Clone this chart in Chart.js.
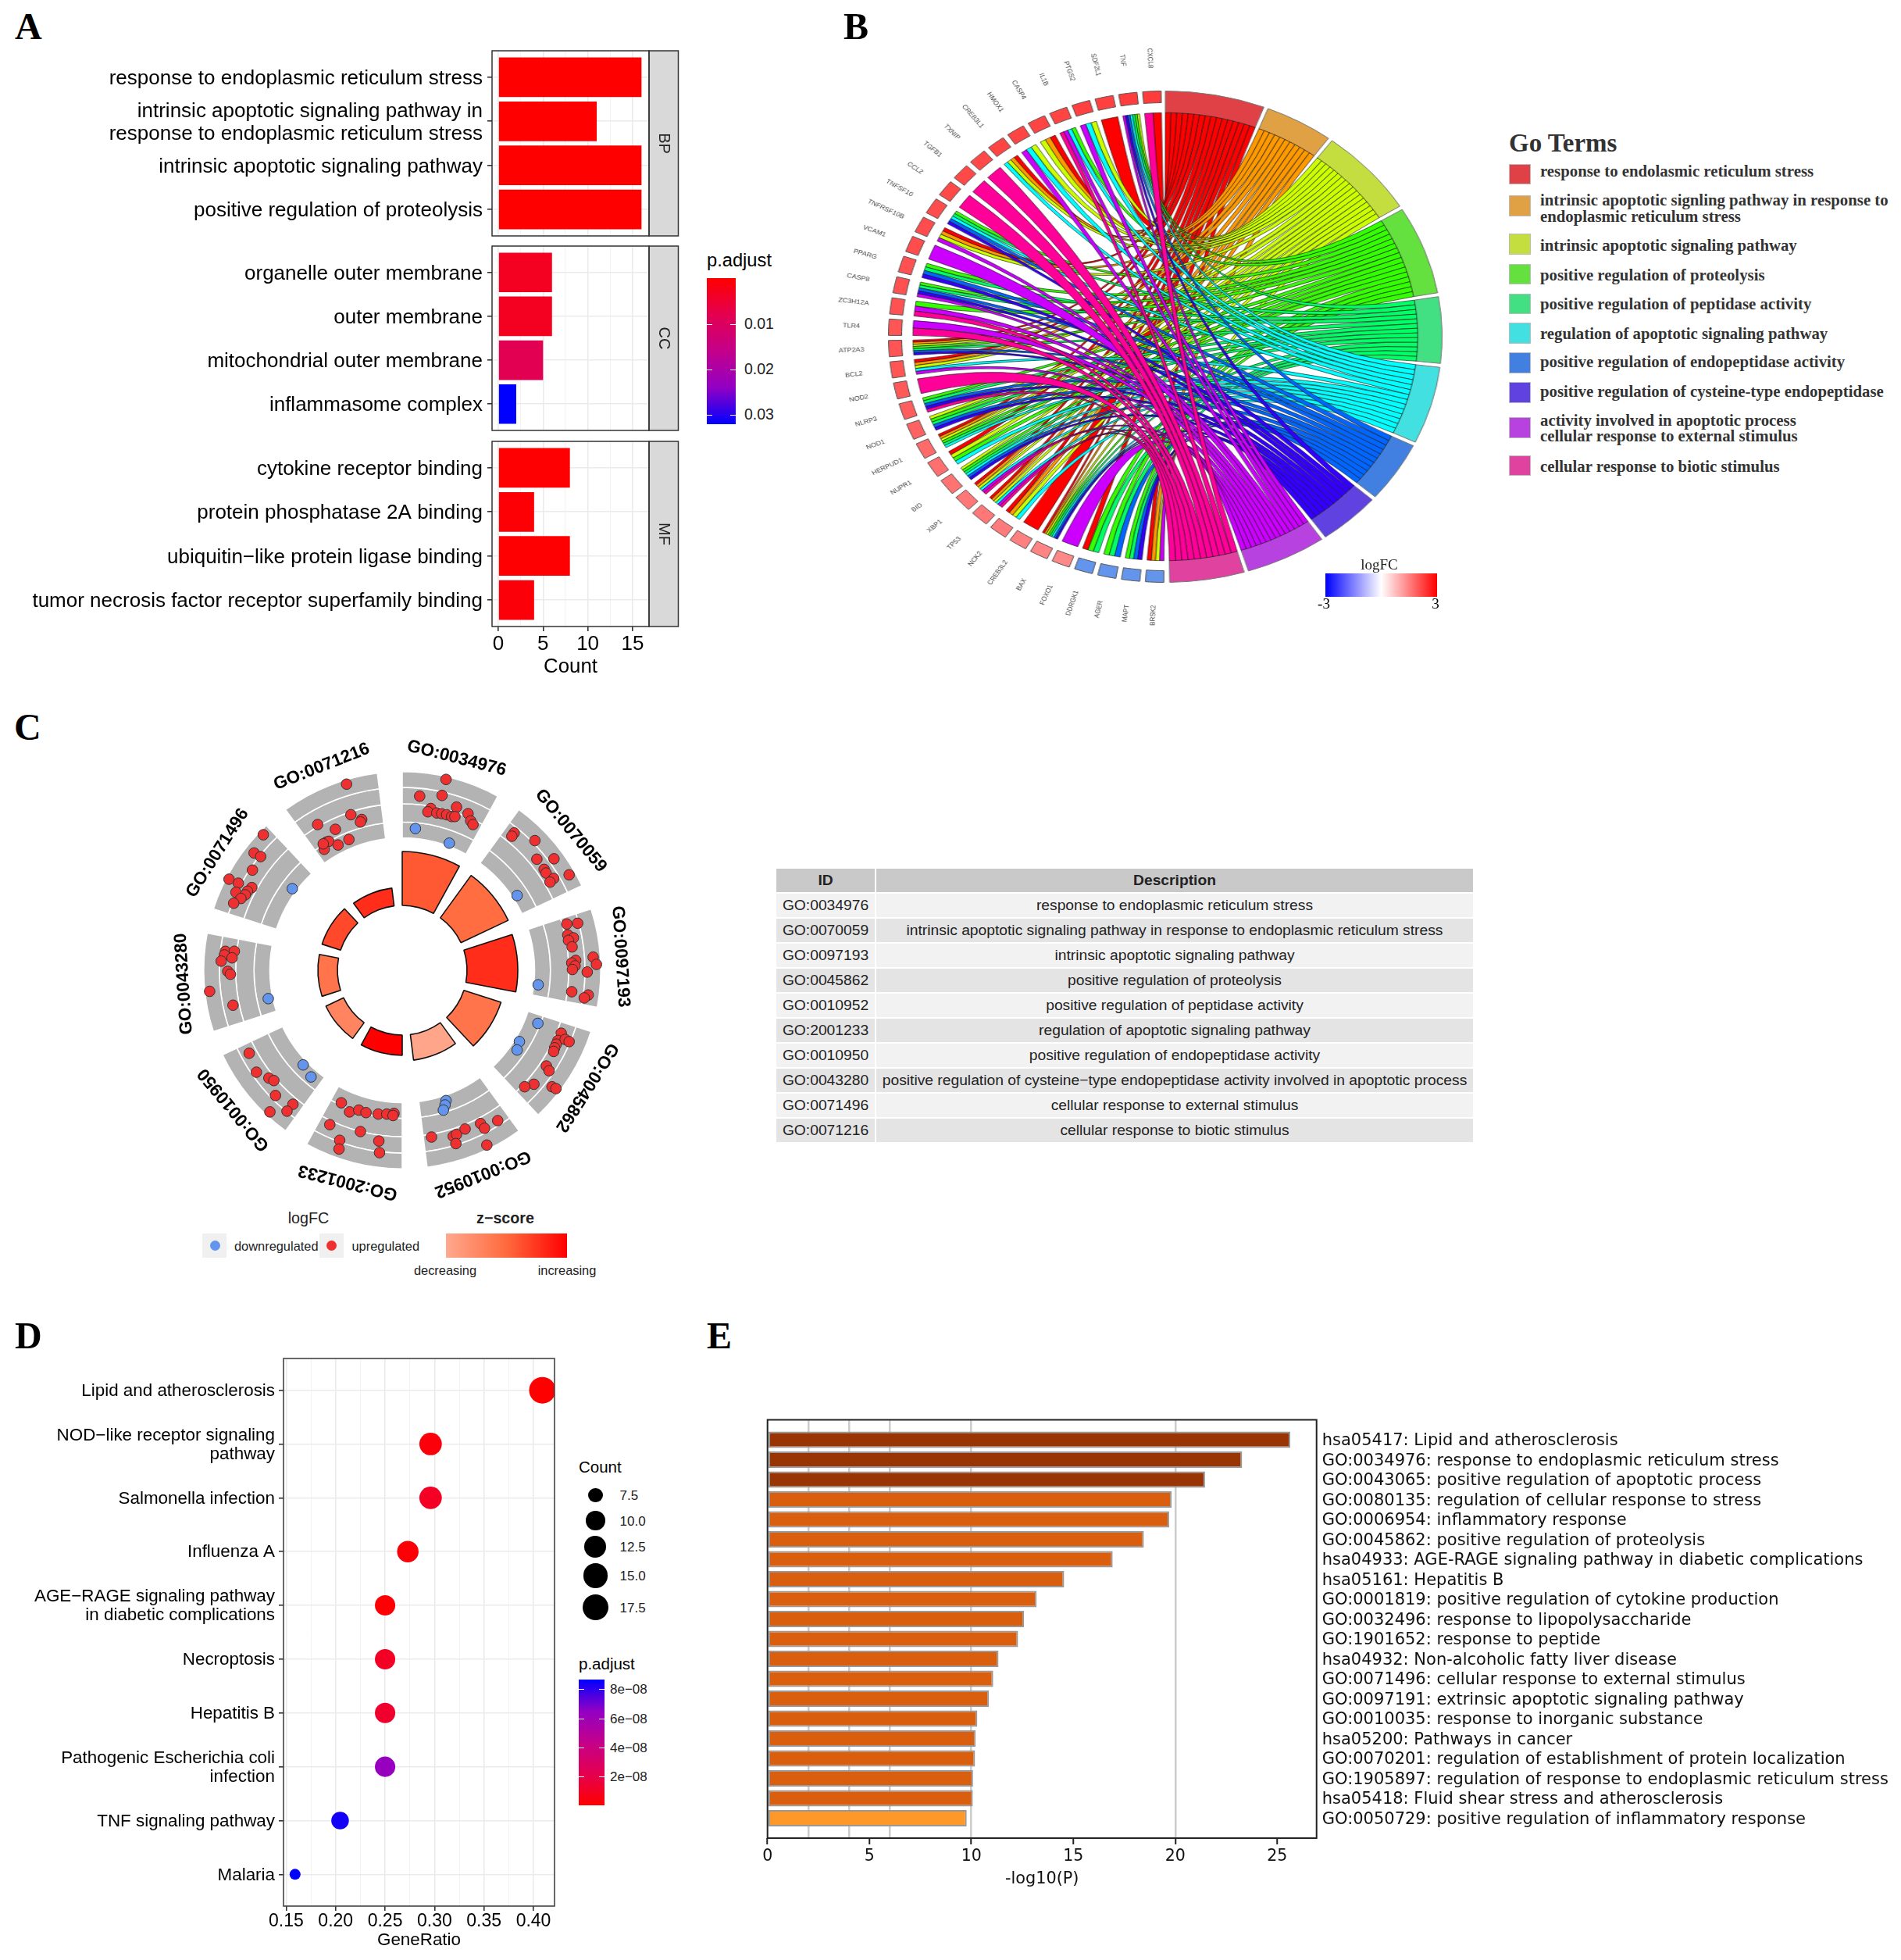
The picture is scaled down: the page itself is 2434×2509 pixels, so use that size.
<!DOCTYPE html>
<html>
<head>
<meta charset="utf-8">
<title>Enrichment panels</title>
<script src="https://cdn.jsdelivr.net/npm/chart.js@4"></script>
<style>
  html, body { margin: 0; padding: 0; background: #fff; }
  body { position: relative; width: 2434px; height: 2509px; overflow: hidden; font-family: "Liberation Sans", sans-serif; }
  canvas { position: absolute; }
  .txt { position: absolute; white-space: pre; line-height: 1; }
  .box { position: absolute; box-sizing: border-box; }
  table { position: absolute; left: 992px; top: 1110px; width: 896px; border-collapse: separate; border-spacing: 2px 2px; table-layout: fixed; font-size: 19.25px; color: #222; text-align: center; }
  th { background: #c9c9c9; height: 30px; padding: 0; }
  td { height: 30px; padding: 0; white-space: nowrap; }
  tr.odd td { background: #f2f2f2; }
  tr.even td { background: #e4e4e4; }
</style>
</head>
<body>
<script>
// panel A
const bpTerms = ["response to endoplasmic reticulum stress", ["intrinsic apoptotic signaling pathway in", "response to endoplasmic reticulum stress"], "intrinsic apoptotic signaling pathway", "positive regulation of proteolysis"];
const bpCounts = [16, 11, 16, 16];
const bpP = [0.0001, 0.0001, 0.0001, 0.0001];
const ccTerms = ["organelle outer membrane", "outer membrane", "mitochondrial outer membrane", "inflammasome complex"];
const ccCounts = [6, 6, 5, 2];
const ccP = [0.0032, 0.0032, 0.0086, 0.032];
const mfTerms = ["cytokine receptor binding", "protein phosphatase 2A binding", "ubiquitin−like protein ligase binding", "tumor necrosis factor receptor superfamily binding"];
const mfCounts = [8, 4, 8, 4];
const mfP = [0.0002, 0.0006, 0.0002, 0.001];
const countTicks = [0, 2.5, 5, 7.5, 10, 12.5, 15];

// panel B
const termNames = ["response to endolasmic reticulum stress", "intrinsic apoptotic signling pathway in response to\nendoplasmic reticulum stress", "intrinsic apoptotic signaling pathway", "positive regulation of proteolysis", "positive regulation of peptidase activity", "regulation of apoptotic signaling pathway", "positive regulation of endopeptidase activity", "positive regulation of cysteine-type endopeptidase", "activity involved in apoptotic process\ncellular response to external stimulus", "cellular response to biotic stimulus"];
const termCounts = [16, 11, 16, 16, 12, 14, 11, 10, 13, 12];
const ribbonColors = ["#ff0000", "#ff9900", "#ccff00", "#33ff00", "#00ff66", "#00ffff", "#0066ff", "#3300ff", "#cc00ff", "#ff0099"];
const ringColors = ["#e04146", "#e0a044", "#c5de3f", "#64e03f", "#42e083", "#42e0e0", "#4180e0", "#5f42e0", "#b842e0", "#e042a0"];
const geneNames = ["CXCL8", "TNF", "SDF2L1", "PTGS2", "IL1B", "CASP4", "HMOX1", "CREB3L1", "TXNIP", "TGFB1", "CCL2", "TNFSF10", "TNFRSF10B", "VCAM1", "PPARG", "CASP8", "ZC3H12A", "TLR4", "ATP2A3", "BCL2", "NOD2", "NLRP3", "NOD1", "HERPUD1", "NUPR1", "BID", "XBP1", "TP53", "NCK2", "CREB3L2", "BAX", "FOXO1", "DDRGK1", "AGER", "MAPT", "BRSK2"];
const geneFc = [2.3, 2.3, 2.25, 2.25, 2.2, 2.2, 2.2, 2.2, 2.15, 2.15, 2.15, 2.1, 2.1, 2.1, 2.05, 2.05, 2.05, 2.0, 2.0, 2.0, 1.95, 1.9, 1.85, 1.75, 1.7, 1.65, 1.6, 1.6, 1.55, 1.5, 1.45, 1.4, -1.6, -1.6, -1.6, -1.6];
const geneTerms = [
  [0, 9], [2, 3, 4, 5, 6, 7, 8], [0], [2, 5, 8], [3, 5, 8, 9], [0, 1, 2], [2, 5, 8], [0, 1, 2, 5], [9], [9], [9], [3, 4, 5, 6, 7],
  [0, 1, 2, 8], [8], [3, 4, 6, 7], [3, 4, 6, 7, 8], [3, 8, 9], [8, 9], [0, 1, 2, 3, 4, 6, 7], [0, 1, 2, 5, 8], [9], [3, 4, 6, 7, 9], [2, 3, 4, 6, 7], [0, 1, 2, 3, 4, 5],
  [0, 2, 3, 5], [2, 3, 4, 5, 6, 7], [0, 1, 2, 5, 8, 9], [0, 1, 2, 5, 8, 9], [0, 1, 2, 5], [0], [0, 1, 2, 3, 4, 5, 6, 7], [8], [0, 3, 4], [3, 4, 6], [3, 4, 6, 7], [0, 1, 2, 8],
];

// panel C, point readings are on a grid of x 190-1400 and y 145-1239 over the circle
const goIds = ["GO:0034976", "GO:0070059", "GO:0097193", "GO:0045862", "GO:0010952", "GO:2001233", "GO:0010950", "GO:0043280", "GO:0071496", "GO:0071216"];
const goDesc = ["response to endoplasmic reticulum stress", "intrinsic apoptotic signaling pathway in response to endoplasmic reticulum stress", "intrinsic apoptotic signaling pathway", "positive regulation of proteolysis", "positive regulation of peptidase activity", "regulation of apoptotic signaling pathway", "positive regulation of endopeptidase activity", "positive regulation of cysteine−type endopeptidase activity involved in apoptotic process", "cellular response to external stimulus", "cellular response to biotic stimulus"];
const goHeights = [152, 150, 148, 133, 116, 109, 108, 108, 108, 106];
const goZ = [4.4, 4.0, 5.2, 3.8, 2.3, 6.0, 3.3, 3.8, 4.7, 5.2];
const goUp = [
  [928, 168], [848, 214], [916, 212], [960, 244], [882, 248], [873, 257], [900, 260], [915, 262], [930, 265], [945, 270], [955, 270], [995, 262], [1003, 282], [1010, 292],
  [1135, 315], [1128, 324], [1198, 336], [1256, 386], [1204, 387], [1226, 415], [1232, 425], [1255, 440], [1244, 450], [1302, 430],
  [1295, 565], [1328, 563], [1298, 595], [1315, 603], [1300, 610], [1311, 628], [1375, 656], [1385, 676], [1322, 665], [1310, 672], [1320, 680], [1312, 690], [1357, 697], [1310, 751], [1360, 760], [1348, 768],
  [1278, 865], [1268, 885], [1263, 895], [1258, 905], [1255, 915], [1290, 882], [1302, 888], [1233, 955], [1241, 968], [1195, 1005], [1167, 1012], [1250, 1012], [1262, 1017],
  [884, 1150], [950, 1148], [960, 1143], [958, 1168], [986, 1128], [1033, 1113], [1045, 1126], [1085, 1105], [1052, 1172],
  [610, 1056], [635, 1081], [663, 1076], [685, 1083], [722, 1087], [748, 1087], [770, 1085], [767, 1091], [575, 1116], [668, 1135], [724, 1161], [605, 1159], [603, 1183], [726, 1193],
  [330, 920], [352, 972], [390, 988], [405, 995], [410, 1036], [463, 1060], [445, 1079], [393, 1081],
  [258, 640], [285, 640], [255, 650], [278, 658], [245, 667], [265, 695], [273, 703], [210, 750], [281, 788],
  [373, 320], [345, 370], [365, 380], [340, 417], [269, 442], [297, 453], [338, 465], [325, 475], [290, 478], [318, 485], [305, 495], [283, 508],
  [626, 181], [538, 292], [592, 305], [639, 265], [672, 278], [668, 285], [633, 333], [565, 340], [572, 338], [600, 348], [558, 360], [555, 345],
];
const goDown = [[835, 303], [938, 343], [1144, 487], [1208, 732], [1207, 838], [1151, 888], [1144, 911], [928, 1050], [925, 1062], [920, 1076], [494, 952], [518, 985], [388, 770], [461, 468]];

// panel D
const dotTerms = ["Lipid and atherosclerosis", ["NOD−like receptor signaling", "pathway"], "Salmonella infection", "Influenza A", ["AGE−RAGE signaling pathway", "in diabetic complications"], "Necroptosis", "Hepatitis B", ["Pathogenic Escherichia coli", "infection"], "TNF signaling pathway", "Malaria"];
const dotRatio = [0.409, 0.296, 0.296, 0.273, 0.25, 0.25, 0.25, 0.25, 0.2045, 0.159];
const dotCount = [18, 13, 13, 12, 11, 11, 11, 11, 9, 7];
const dotP = [1e-10, 0.3e-8, 1e-8, 0.2e-8, 0.1e-8, 1e-8, 1.2e-8, 6.3e-8, 8.4e-8, 8.7e-8];
const ratioTicks = [0.15, 0.175, 0.2, 0.225, 0.25, 0.275, 0.3, 0.325, 0.35, 0.375, 0.4];
const sizeLegend = [7.5, 10, 12.5, 15, 17.5];

// panel E
const barLabels = ["hsa05417: Lipid and atherosclerosis", "GO:0034976: response to endoplasmic reticulum stress", "GO:0043065: positive regulation of apoptotic process", "GO:0080135: regulation of cellular response to stress", "GO:0006954: inflammatory response", "GO:0045862: positive regulation of proteolysis", "hsa04933: AGE-RAGE signaling pathway in diabetic complications", "hsa05161: Hepatitis B", "GO:0001819: positive regulation of cytokine production", "GO:0032496: response to lipopolysaccharide", "GO:1901652: response to peptide", "hsa04932: Non-alcoholic fatty liver disease", "GO:0071496: cellular response to external stimulus", "GO:0097191: extrinsic apoptotic signaling pathway", "GO:0010035: response to inorganic substance", "hsa05200: Pathways in cancer", "GO:0070201: regulation of establishment of protein localization", "GO:1905897: regulation of response to endoplasmic reticulum stress", "hsa05418: Fluid shear stress and atherosclerosis", "GO:0050729: positive regulation of inflammatory response"];
const barValues = [25.64, 23.28, 21.46, 19.82, 19.7, 18.46, 16.93, 14.55, 13.2, 12.58, 12.29, 11.33, 11.07, 10.86, 10.29, 10.21, 10.18, 10.08, 10.07, 9.77];
const barColors = barValues.map((v, i) => (i < 3 ? "#993404" : i < 19 ? "#d95f0e" : "#fe9929"));
const logTicks = [0, 2, 4, 5, 6, 10, 15, 20, 25];
const logLines = [2, 4, 6, 10, 20];

Chart.defaults.animation = false;
Chart.defaults.responsive = false;
Chart.defaults.events = [];
Chart.defaults.layout.autoPadding = false;
Chart.defaults.plugins.legend.display = false;
Chart.defaults.plugins.tooltip.enabled = false;
Chart.defaults.font.family = '"Liberation Sans"';
Chart.defaults.color = "#000";

const SERIF = '"Liberation Serif"';
const RAMP = [[255, 0, 0], [228, 0, 79], [196, 0, 138], [146, 0, 196], [0, 0, 255]];
const RAMP_CSS = "rgb(255,0,0), rgb(228,0,79), rgb(196,0,138), rgb(146,0,196), rgb(0,0,255)";

function rampColor(t) {
  const p = Math.min(1, Math.max(0, t)) * (RAMP.length - 1);
  const i = Math.min(RAMP.length - 2, Math.floor(p));
  const c = RAMP[i].map((v, k) => Math.round(v + (RAMP[i + 1][k] - v) * (p - i)));
  return `rgb(${c})`;
}

function addCanvas(left, top, width, height) {
  const c = document.createElement("canvas");
  c.width = width;
  c.height = height;
  c.style.left = left + "px";
  c.style.top = top + "px";
  document.body.appendChild(c);
  return c;
}

function text(str, x, y, opts = {}) {
  const d = document.createElement("div");
  d.className = "txt";
  d.textContent = str;
  d.style.left = x + "px";
  d.style.top = y + "px";
  d.style.fontSize = (opts.size || 16) + "px";
  d.style.fontFamily = opts.family || "inherit";
  d.style.fontWeight = opts.weight || "normal";
  d.style.color = opts.color || "#000";
  if (opts.lineHeight) d.style.lineHeight = opts.lineHeight;
  d.style.transform = opts.center ? "translate(-50%, -50%)" : "translateY(-50%)";
  document.body.appendChild(d);
  return d;
}

function box(x, y, w, h, css) {
  const d = document.createElement("div");
  d.className = "box";
  d.style.left = x + "px";
  d.style.top = y + "px";
  d.style.width = w + "px";
  d.style.height = h + "px";
  Object.assign(d.style, css);
  document.body.appendChild(d);
  return d;
}

// gradient legend with short white ticks on both sides
function colorbar(x, y, w, h, gradient, ticks) {
  box(x, y, w, h, { background: `linear-gradient(to bottom, ${gradient})` });
  ticks.forEach((t) => {
    box(x, t[0], w / 5, 1, { background: "#fff" });
    box(x + w - w / 5, t[0], w / 5, 1, { background: "#fff" });
    text(t[1], t[2], t[0], { size: t[3], color: "#222" });
  });
}

// chart area is fixed by hand, so labels must not push it in
function fitY(width) {
  return (s) => { s.width = width; s.paddingTop = 0; s.paddingBottom = 0; };
}
function fitX(height) {
  return (s) => { s.height = height; s.paddingLeft = 0; s.paddingRight = 0; };
}
function setTicks(values) {
  return (s) => { s.ticks = values.map((v) => ({ value: v })); };
}

const frame = {
  id: "frame",
  afterDraw(chart, args, opts) {
    const { ctx, chartArea: a } = chart;
    ctx.save();
    if (opts.strip) {
      ctx.fillStyle = "#d9d9d9";
      ctx.strokeStyle = "#333";
      ctx.lineWidth = 1.5;
      ctx.fillRect(a.right, a.top, 37.5, a.bottom - a.top);
      ctx.strokeRect(a.right, a.top, 37.5, a.bottom - a.top);
      ctx.translate(a.right + 18.7, (a.top + a.bottom) / 2);
      ctx.rotate(Math.PI / 2);
      ctx.fillStyle = "#222";
      ctx.font = '20px "Liberation Sans"';
      ctx.textAlign = "center";
      ctx.textBaseline = "middle";
      ctx.fillText(opts.strip, 0, 0);
      ctx.setTransform(1, 0, 0, 1, 0, 0);
    }
    ctx.strokeStyle = opts.color || "#333";
    ctx.lineWidth = opts.width || 1.5;
    ctx.strokeRect(a.left, a.top, a.right - a.left, a.bottom - a.top);
    ctx.restore();
  },
};

// ---------- panel A ----------
const fiveMajor = (c) => c.tick && c.tick.value % 5 === 0;

function facet(top, height, terms, counts, ps, strip, bottomAxis) {
  const canvas = addCanvas(0, top - 2, 872, height + 4 + (bottomAxis ? 67 : 0));
  new Chart(canvas, {
    type: "bar",
    data: {
      datasets: [{
        data: counts.map((c, i) => ({ x: c, y: i })),
        backgroundColor: ps.map((p) => rampColor(p / 0.032)),
        barPercentage: 0.9,
        categoryPercentage: 1,
      }],
    },
    plugins: [frame],
    options: {
      indexAxis: "y",
      layout: { padding: { top: 2, bottom: bottomAxis ? 0 : 2, right: 41 } },
      plugins: { frame: { strip } },
      scales: {
        x: {
          type: "linear",
          min: -0.7,
          max: 16.84,
          afterBuildTicks: setTicks(countTicks),
          afterFit: fitX(bottomAxis ? 67 : 0),
          border: { display: false },
          grid: {
            color: (c) => (fiveMajor(c) ? "#ebebeb" : "#f3f3f3"),
            lineWidth: (c) => (fiveMajor(c) ? 1.6 : 1),
            tickColor: (c) => (fiveMajor(c) ? "#333" : "transparent"),
            tickLength: 6,
            drawTicks: bottomAxis,
          },
          ticks: {
            display: bottomAxis,
            autoSkip: false,
            maxRotation: 0,
            padding: 1,
            font: { size: 26 },
            callback: (v) => (v % 5 === 0 ? v : ""),
          },
          title: { display: bottomAxis, text: "Count", font: { size: 25.8 }, padding: 0 },
        },
        y: {
          type: "linear",
          offset: false,
          reverse: true,
          min: -0.6,
          max: 3.6,
          afterBuildTicks: setTicks(terms.map((t, i) => i)),
          afterFit: fitY(630),
          border: { display: false },
          grid: { offset: false, color: "#ebebeb", lineWidth: 1.6, tickColor: "#333", tickLength: 6 },
          ticks: {
            autoSkip: false,
            padding: 6,
            labelOffset: 2,
            font: { size: 26, lineHeight: 1.1 },
            callback: (v) => terms[v],
          },
        },
      },
    },
  });
}
facet(65, 237, bpTerms, bpCounts, bpP, "BP", false);
facet(315, 236, ccTerms, ccCounts, ccP, "CC", false);
facet(565, 235, mfTerms, mfCounts, mfP, "MF", true);

text("p.adjust", 905, 334, { size: 23.7 });
colorbar(905, 356, 37, 187, RAMP_CSS, [[415, "0.01", 953, 19.5], [473, "0.02", 953, 19.5], [531, "0.03", 953, 19.5]]);

// ---------- panel B ----------
const CHORD_R = 286.7;
const GENE_GAP = 0.305;
const TERM_GAP = 0.7;
const chordSize = 780;
const chordLeft = 1492 - chordSize / 2;
const chordTop = 431 - chordSize / 2;

function chordCanvas() {
  const c = addCanvas(chordLeft, chordTop, chordSize, chordSize);
  c.style.transform = "scaleX(1.127)";
  return c;
}

const geneOrder = geneNames.map((g, i) => i).reverse();
const geneData = geneOrder.flatMap(() => [1, GENE_GAP]);
const geneSpan = geneData.reduce((a, b) => a + b, 0);
const geneChart = new Chart(chordCanvas(), {
  type: "doughnut",
  data: {
    datasets: [{
      data: [...geneData, geneSpan],
      backgroundColor: [...geneOrder.flatMap((i) => {
        const fc = geneFc[i];
        const g = Math.round(255 * (1 - fc / 3));
        return [fc < 0 ? "#6495ed" : `rgb(255,${g},${g})`, "transparent"];
      }), "transparent"],
      borderColor: [...geneOrder.flatMap(() => ["#555", "transparent"]), "transparent"],
      borderWidth: 1,
    }],
  },
  plugins: [{
    id: "geneLabels",
    afterDatasetsDraw(chart) {
      const { ctx, chartArea: a } = chart;
      const arcs = chart.getDatasetMeta(0).data;
      const cx = (a.left + a.right) / 2;
      const cy = (a.top + a.bottom) / 2;
      ctx.save();
      ctx.fillStyle = "#444";
      ctx.font = '8px "Liberation Sans"';
      ctx.textAlign = "center";
      ctx.textBaseline = "middle";
      geneOrder.forEach((g, i) => {
        const arc = arcs[i * 2];
        const m = (arc.startAngle + arc.endAngle) / 2;
        ctx.save();
        ctx.translate(cx + 357 * Math.cos(m), cy + 357 * Math.sin(m));
        ctx.rotate(m - Math.PI);
        ctx.fillText(geneNames[g], 0, 0);
        ctx.restore();
      });
      ctx.restore();
    },
  }],
  options: { rotation: 180.3, cutout: 299.5, layout: { padding: 75 } },
});

const termData = termCounts.flatMap((c) => [c, TERM_GAP]);
const termSpan = termData.reduce((a, b) => a + b, 0);

const ribbons = {
  id: "ribbons",
  afterDatasetsDraw(chart) {
    const { ctx, chartArea: a } = chart;
    const termArcs = chart.getDatasetMeta(0).data;
    const geneArcs = geneChart.getDatasetMeta(0).data;
    const cx = (a.left + a.right) / 2;
    const cy = (a.top + a.bottom) / 2;
    const px = (t) => cx + CHORD_R * Math.cos(t);
    const py = (t) => cy + CHORD_R * Math.sin(t);
    ctx.save();
    ctx.lineWidth = 0.8;
    ctx.strokeStyle = "rgba(20,20,20,0.8)";
    termCounts.forEach((c, t) => {
      const members = geneTerms.map((list, g) => (list.includes(t) ? g : -1)).filter((g) => g >= 0);
      const term = termArcs[t * 2];
      const tw = (term.endAngle - term.startAngle) / members.length;
      members.forEach((g, j) => {
        const arc = geneArcs[(geneNames.length - 1 - g) * 2];
        const list = geneTerms[g];
        const gw = (arc.endAngle - arc.startAngle) / list.length;
        const a1 = arc.startAngle + (list.length - 1 - list.indexOf(t)) * gw;
        const a2 = a1 + gw;
        const b1 = term.startAngle + j * tw;
        const b2 = b1 + tw;
        ctx.beginPath();
        ctx.arc(cx, cy, CHORD_R, a1, a2);
        ctx.quadraticCurveTo(cx, cy, px(b1), py(b1));
        ctx.arc(cx, cy, CHORD_R, b1, b2);
        ctx.quadraticCurveTo(cx, cy, px(a1), py(a1));
        ctx.closePath();
        ctx.fillStyle = ribbonColors[t];
        ctx.fill();
        ctx.stroke();
      });
    });
    ctx.restore();
  },
};

new Chart(chordCanvas(), {
  type: "doughnut",
  data: {
    datasets: [{
      data: [...termData, termSpan],
      backgroundColor: [...ringColors.flatMap((c) => [c, "transparent"]), "transparent"],
      borderColor: [...ringColors.flatMap(() => ["#777", "transparent"]), "transparent"],
      borderWidth: 1,
    }],
  },
  plugins: [ribbons],
  options: { rotation: 0, cutout: CHORD_R, layout: { padding: 75 } },
});

text("logFC", 1766, 722, { size: 19, family: SERIF, center: true, color: "#222" });
box(1697, 734, 143, 30, { background: "linear-gradient(to right, #0000ff, #ffffff, #ff0000)" });
text("-3", 1695, 772, { size: 19, family: SERIF, center: true });
text("3", 1838, 772, { size: 19, family: SERIF, center: true });

text("Go Terms", 1932, 183, { size: 33, family: SERIF, weight: "bold", color: "#333" });
const legendSwatchY = [209.5, 250, 299, 337.7, 375.7, 413.3, 451.3, 489.3, 534, 582.7];
const legendTextY = [219.3, 267, 314, 351.7, 388.7, 426.7, 463.3, 501, 548.8, 596.7];
termNames.forEach((name, i) => {
  box(1932, legendSwatchY[i], 27.5, 26.6, { background: ringColors[i], border: "1px solid #bbb" });
  text(name, 1972, legendTextY[i], { size: 20.8, family: SERIF, weight: "bold", color: "#333", lineHeight: "20.6px" });
});

// ---------- panel C ----------
const SLOT = 28.8;
const SLOT_GAP = 7.2;
const circleSize = 600;
const circleLeft = 215;
const circleTop = 942;
const slots = goIds.flatMap(() => [SLOT, SLOT_GAP]);
const greyFill = goIds.flatMap(() => ["#b3b3b3", "transparent"]);
const greyEdge = goIds.flatMap(() => ["#fff", "transparent"]);

new Chart(addCanvas(circleLeft, circleTop, circleSize, circleSize), {
  type: "doughnut",
  data: {
    datasets: [20.3, 21, 23.7, 20.5].map((w) => ({
      data: slots,
      weight: w,
      backgroundColor: greyFill,
      borderColor: greyEdge,
      borderWidth: 1.6,
    })),
  },
  options: { cutout: 169.5, layout: { padding: 45 } },
});

function zColor(z) {
  const t = (z - 2.2) / 3.8;
  const stops = [[255, 168, 142], [255, 106, 61], [255, 0, 0]];
  const i = t < 0.5 ? 0 : 1;
  const f = t < 0.5 ? t * 2 : (t - 0.5) * 2;
  const c = stops[i].map((v, k) => Math.round(v + (stops[i + 1][k] - v) * f));
  return `rgb(${c})`;
}

new Chart(addCanvas(circleLeft, circleTop, circleSize, circleSize), {
  type: "polarArea",
  data: {
    labels: slots.map((s, i) => i),
    datasets: [{
      data: goHeights.flatMap((h) => [h, 0]),
      angle: (c) => slots[c.dataIndex],
      backgroundColor: goZ.flatMap((z) => [zColor(z), "transparent"]),
      borderColor: goZ.flatMap(() => ["#111", "transparent"]),
      borderWidth: goZ.flatMap(() => [1.6, 0]),
    }],
  },
  plugins: [{
    id: "innerHole",
    beforeDatasetsDraw(chart) {
      chart.getDatasetMeta(0).data.forEach((arc, i) => {
        if (i % 2 === 0) arc.innerRadius = 83;
      });
    },
  }],
  options: {
    layout: { padding: 45 },
    scales: { r: { display: false, min: 0, max: 255 } },
  },
});

new Chart(addCanvas(circleLeft, circleTop, circleSize, circleSize), {
  type: "scatter",
  data: {
    datasets: [
      { data: goUp.map((p) => ({ x: p[0], y: p[1] })), backgroundColor: "#ee3030" },
      { data: goDown.map((p) => ({ x: p[0], y: p[1] })), backgroundColor: "#6495ed" },
    ],
  },
  plugins: [{
    id: "goLabels",
    afterDatasetsDraw(chart) {
      const { ctx, chartArea: a } = chart;
      const cx = (a.left + a.right) / 2;
      const cy = (a.top + a.bottom) / 2;
      ctx.save();
      ctx.fillStyle = "#000";
      ctx.font = 'bold 22.5px "Liberation Sans"';
      ctx.textAlign = "center";
      ctx.textBaseline = "middle";
      goIds.forEach((id, i) => {
        const t = ((i * 36 + 14.4) * Math.PI) / 180;
        ctx.save();
        ctx.translate(cx + 280 * Math.sin(t), cy - 280 * Math.cos(t));
        ctx.rotate(t);
        ctx.fillText(id, 0, 0);
        ctx.restore();
      });
      ctx.restore();
    },
  }],
  options: {
    layout: { padding: 45 },
    elements: { point: { radius: 6.8, borderColor: "#333", borderWidth: 1 } },
    datasets: { scatter: { clip: false } },
    scales: {
      x: { display: false, min: 190, max: 1400 },
      y: { display: false, min: 145, max: 1239, reverse: true },
    },
  },
});

text("logFC", 395, 1560, { size: 19.7, center: true, color: "#222" });
text("z−score", 647, 1560, { size: 19.7, center: true, weight: "bold", color: "#222" });
box(259, 1579, 31, 31, { background: "#f0f0f0" });
box(409, 1579, 31, 31, { background: "#f0f0f0" });
box(268.5, 1588, 13, 13, { background: "#6495ed", borderRadius: "50%" });
box(418, 1588, 13, 13, { background: "#ee3030", borderRadius: "50%" });
text("downregulated", 300, 1595, { size: 16.4, color: "#222" });
text("upregulated", 450.5, 1595, { size: 16.4, color: "#222" });
box(570.5, 1579, 155.5, 31, { background: "linear-gradient(to right, #ffa88e, #ff6a3d, #ff0000)" });
text("decreasing", 570, 1626, { size: 16.4, center: true, color: "#222" });
text("increasing", 726, 1626, { size: 16.4, center: true, color: "#222" });

// table next to the circle
const table = document.createElement("table");
table.innerHTML = `<colgroup><col style="width:126px"><col></colgroup><tr><th>ID</th><th>Description</th></tr>` +
  goIds.map((id, i) => `<tr class="${i % 2 ? "even" : "odd"}"><td>${id}</td><td>${goDesc[i]}</td></tr>`).join("");
document.body.appendChild(table);

// ---------- panel D ----------
function dotSize(count) {
  return 7 + 10 * Math.sqrt((count - 7) / 11);
}
const ratioMajor = (c) => c.tick && ratioTicks.indexOf(c.tick.value) % 2 === 0;

new Chart(addCanvas(0, 1730, 720, 767), {
  type: "scatter",
  data: {
    datasets: [{
      data: dotRatio.map((r, i) => ({ x: r, y: i })),
      pointRadius: dotCount.map(dotSize),
      pointBackgroundColor: dotP.map((p) => rampColor(p / 8.7e-8)),
      pointBorderWidth: 0,
      clip: 0,
    }],
  },
  plugins: [frame],
  options: {
    layout: { padding: { top: 9, right: 10 } },
    plugins: { frame: { color: "#444", width: 1.6 } },
    scales: {
      x: {
        type: "linear",
        min: 0.1473,
        max: 0.4213,
        afterBuildTicks: setTicks(ratioTicks),
        afterFit: fitX(57),
        border: { display: false },
        grid: {
          color: (c) => (ratioMajor(c) ? "#ebebeb" : "#f3f3f3"),
          lineWidth: (c) => (ratioMajor(c) ? 1.6 : 1),
          tickColor: (c) => (ratioMajor(c) ? "#333" : "transparent"),
          tickLength: 6,
        },
        ticks: {
          autoSkip: false,
          maxRotation: 0,
          padding: 0,
          font: { size: 23 },
          callback: (v, i) => (i % 2 === 0 ? v.toFixed(2) : ""),
        },
        title: { display: true, text: "GeneRatio", font: { size: 22.4 }, padding: 0 },
      },
      y: {
        type: "linear",
        reverse: true,
        min: -0.59,
        max: 9.59,
        afterBuildTicks: setTicks(dotTerms.map((t, i) => i)),
        afterFit: fitY(363),
        border: { display: false },
        grid: { color: "#ebebeb", lineWidth: 1.6, tickColor: "#333", tickLength: 6 },
        ticks: {
          autoSkip: false,
          padding: 5,
          labelOffset: 1,
          font: { size: 22.4, lineHeight: 1.08 },
          callback: (v) => dotTerms[v],
        },
      },
    },
  },
});

text("Count", 741, 1878, { size: 20.5 });
const legendDotY = [1914, 1946.5, 1980, 2017, 2057.5];
sizeLegend.forEach((c, i) => {
  const r = dotSize(c);
  box(762.4 - r, legendDotY[i] - r, 2 * r, 2 * r, { background: "#000", borderRadius: "50%" });
  text(c.toFixed(1), 793.5, legendDotY[i], { size: 17, color: "#222" });
});
text("p.adjust", 741, 2129.5, { size: 20.5 });
colorbar(741, 2149.5, 32.5, 161.5, "rgb(0,0,255), rgb(146,0,196), rgb(196,0,138), rgb(228,0,79), rgb(255,0,0)", [
  [2162, "8e−08", 781, 17], [2199.7, "6e−08", 781, 17], [2237, "4e−08", 781, 17], [2274, "2e−08", 781, 17],
]);

// ---------- panel E ----------
new Chart(addCanvas(970, 1805, 1464, 613), {
  type: "bar",
  data: {
    datasets: [{
      data: barValues.map((v, i) => ({ x: v, y: i })),
      backgroundColor: barColors,
      borderColor: "#999",
      borderWidth: 2,
      borderSkipped: false,
      barPercentage: 0.82,
      categoryPercentage: 1,
    }],
  },
  plugins: [frame],
  options: {
    indexAxis: "y",
    layout: { padding: { left: 12.7, top: 12.5 } },
    plugins: { frame: { color: "#222", width: 2 } },
    scales: {
      x: {
        type: "linear",
        min: 0,
        max: 26.93,
        afterBuildTicks: setTicks(logTicks),
        afterFit: fitX(65),
        border: { display: false },
        grid: {
          color: (c) => (c.tick && logLines.includes(c.tick.value) ? "#cccccc" : "transparent"),
          lineWidth: 2.5,
          tickColor: (c) => (c.tick && c.tick.value % 5 === 0 ? "#222" : "transparent"),
          tickLength: 8,
          tickWidth: 2,
        },
        ticks: {
          autoSkip: false,
          maxRotation: 0,
          padding: 3,
          font: { size: 20.5, family: '"DejaVu Sans"' },
          color: "#111",
          callback: (v) => (v % 5 === 0 ? v : ""),
        },
        title: { display: true, text: "-log10(P)", font: { size: 20.8, family: '"DejaVu Sans"' }, color: "#111", padding: 0 },
      },
      y: {
        type: "linear",
        offset: false,
        position: "right",
        reverse: true,
        min: -1,
        max: 20,
        afterBuildTicks: setTicks(barLabels.map((t, i) => i)),
        afterFit: fitY(748.3),
        border: { display: false },
        grid: { offset: false, display: false, drawTicks: false },
        ticks: {
          autoSkip: false,
          padding: 7,
          labelOffset: 2,
          font: { size: 21, family: '"DejaVu Sans"' },
          color: "#111",
          callback: (v) => barLabels[v],
        },
      },
    },
  },
});

// panel letters
[["A", 19, 34], ["B", 1080, 34], ["C", 18, 931], ["D", 19, 1710], ["E", 905, 1710]].forEach((p) => {
  text(p[0], p[1], p[2], { size: 48, family: SERIF, weight: "bold" });
});
</script>
</body>
</html>
